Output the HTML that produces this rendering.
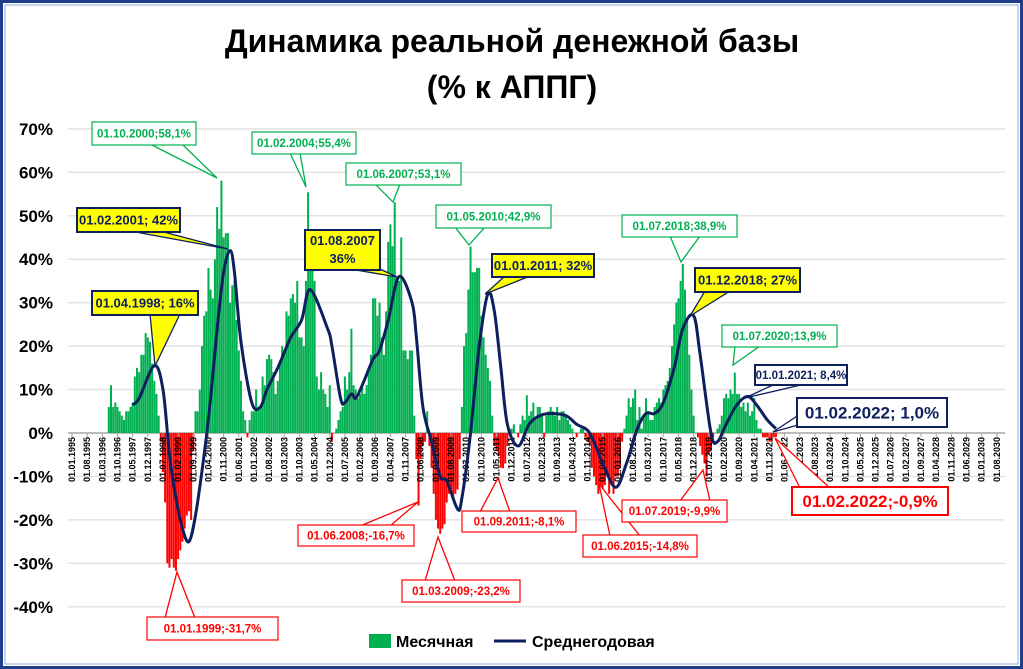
<!DOCTYPE html>
<html><head><meta charset="utf-8"><style>
html,body{margin:0;padding:0;background:#fff}
svg{display:block;font-family:"Liberation Sans",Arial,sans-serif}
</style></head><body>
<svg id="chart" width="1023" height="669" viewBox="0 0 1023 669">
<rect x="1.5" y="1.5" width="1020" height="666" fill="#fff" stroke="#1f3d8a" stroke-width="3"/>
<rect x="5" y="5" width="1013" height="659" fill="none" stroke="#8fa8d8" stroke-width="1"/>
<text x="512" y="52" text-anchor="middle" font-size="32" font-weight="bold" fill="#000">Динамика реальной денежной базы</text>
<text x="512" y="98" text-anchor="middle" font-size="32" font-weight="bold" fill="#000">(% к АППГ)</text>
<g id="grid"></g><g id="yaxis"></g><g id="bars"></g><g id="xaxis"></g><g id="line"></g><g id="ann"></g>
<g>
<rect x="369" y="634" width="22" height="14" fill="#00b050"/>
<text x="396" y="647" font-size="16" font-weight="bold">Месячная</text>
<line x1="494" y1="641" x2="526" y2="641" stroke="#0d1f5c" stroke-width="3"/>
<text x="532" y="647" font-size="16" font-weight="bold">Среднегодовая</text>
</g>
</svg>
<script>
// Monthly values starting 06.1996
const barStart = [1996, 6];
const monthlyValues = [
6,11,6,7,6,5,4,
3,5,5,6,7,13,15,14,18,18,23,22,
21,16,12,9,4,-2,-9,-16,-30,-31,-29,-31,
-31.7,-29,-27,-25,-22,-19,-18,-20,-4,5,5,10,
20,27,28,38,33,31,40,52,47,58.1,45,46,
46,30,34,35,26,19,12,5,3,-1,3,5,
5,10,6,6,13,11,17,18,17,14,9,12,
16,20,19,28,27,31,32,30,35,22,22,20,
35,55.4,38,38,35,13,10,14,10,9,6,11,
-2,0,1,3,5,6,13,10,14,24,11,10,
8,9,11,9,11,15,18,31,31,27,30,22,
18,28,44,48,43,53.1,36,35,45,19,19,17,
19,19,4,-6,-16.7,-6,-3,-2,5,-3,-8,-14,
-20,-22,-23.2,-22,-21,-16,-14,-13,-15,-14,-13,-6,
6,20,23,33,42.9,37,37,38,38,27,22,18,
15,12,4,-3,-4,-5,-8,-8.1,-7,-3,1,1,
2,0,-1,2,4,3,8.7,4,5,7,3,6,
6,4,-1,4,5,6,5,4,6,3,5,5,
4,3,2,1,0,-1,0,1,1,-1,-2,-3,
-8,-10,-12,-14,-13,-14.8,-12,-9,-14,-11,-14,-10,
-10,-8,-2,1,4,8,6,8,10,3,6,1,
4,8,5,3,3,6,7,8,7,10,11,12,
15,20,25,30,31,35,38.9,33,26,18,10,4,
0,-1,-3,-5,-7,-9.9,-5,-4,-1,0,1,2,
4,8,9,8,10,9,13.9,9,9,6,7,5,
7,4,5,8,3,1,1,-1,-1,-1,-2,-2,
-1,-0.9];
// Annual-average line: months since 01.1995 and values
const lineMonths = [28,31,38,42,45,48,51,54,57,61,64,67,70,73,75,78,83,87,90,95,101,106,110,118,120,124,126,129,131,134,139,142,146,151,157,159,162,166,170,173,178,180,184,188,192,195,198,201,206,211,216,221,228,233,239,245,251,256,261,265,269,273,278,282,287,290,295,298,302,307,312,316,321,325];
const lineValues = [6.5,8,15.5,10,-5,-15,-22,-25,-19,-5,8,24,37,42,37,21,7,6,10,15,22,26,33,24,20,8,7,9,8,11,17,19,26,36,30,22,6,-2,-10,-11,-17.5,-15,0,20,32,28,15,2,-3,2,4,4.5,4,2,0,-7,-12.5,-7,1,4.5,4.5,7,15,24,27,18,0,-2,2,6.5,8.4,6.5,3,1.0];
const yTicks = [-40,-30,-20,-10,0,10,20,30,40,50,60,70];

const NS='http://www.w3.org/2000/svg';
const X0=72, MW=2.166, Y0=433, PY=4.345;
const xm=m=>X0+m*MW, yv=v=>Y0-v*PY;
function el(t,a,p){const e=document.createElementNS(NS,t);for(const k in a)e.setAttribute(k,a[k]);p.appendChild(e);return e;}
const G=id=>document.getElementById(id);

yTicks.forEach(t=>{
  const g=el('line',{x1:68,x2:1005,y1:yv(t),y2:yv(t),stroke:t===0?'#a6a6a6':'#e3e3e3','stroke-width':1.5},G('grid'));
  
  
  const tx=el('text',{x:53,y:yv(t)+6,'text-anchor':'end','font-size':17,'font-weight':'bold'},G('yaxis'));
  tx.textContent=t+'%';
  
  
});

const m0=(barStart[0]-1995)*12+barStart[1]-1;
monthlyValues.forEach((v,i)=>{
  const m=m0+i, y=yv(Math.max(v,0)), h=Math.abs(v)*PY;
  const r=el('rect',{x:xm(m)-1,y:y,width:2,height:h,fill:v>=0?'#00b050':'#ff0000'},G('bars'));
  
  
});

for(let m=0;m<=427;m+=7){
  const yr=1995+Math.floor(m/12), mo=m%12+1;
  const lab='01.'+(mo<10?'0':'')+mo+'.'+yr;
  el('line',{x1:xm(m),x2:xm(m),y1:433,y2:437,stroke:'#a6a6a6'},G('xaxis'));
  const t=el('text',{x:0,y:0,transform:`translate(${xm(m)+3},437) rotate(-90)`,'text-anchor':'end','font-size':9,'font-weight':'bold'},G('xaxis'));
  t.textContent=lab;
  
  
}

const pts=lineMonths.map((m,i)=>[xm(m),yv(lineValues[i])]);
let d='M'+pts[0][0]+','+pts[0][1];
for(let i=0;i<pts.length-1;i++){
  const p0=pts[Math.max(i-1,0)],p1=pts[i],p2=pts[i+1],p3=pts[Math.min(i+2,pts.length-1)];
  d+=` C${p1[0]+(p2[0]-p0[0])/6},${p1[1]+(p2[1]-p0[1])/6} ${p2[0]-(p3[0]-p1[0])/6},${p2[1]-(p3[1]-p1[1])/6} ${p2[0]},${p2[1]}`;
}
const ln=el('path',{d:d,fill:'none',stroke:'#0d1f5c','stroke-width':3,'stroke-linejoin':'round'},G('line'));



const anns=[
[['01.10.2000;58,1%'],92,122,104,23,'g',217,178,150,182],
[['01.02.2004;55,4%'],252,132,104,22,'g',306,187,290,300],
[['01.06.2007;53,1%'],346,163,115,22,'g',393,202,375,400],
[['01.05.2010;42,9%'],436,205,115,23,'g',469,245,455,485],
[['01.07.2018;38,9%'],622,215,115,22,'g',681,262,670,700],
[['01.07.2020;13,9%'],722,325,115,22,'g',733,365,735,760],
[['01.02.2001; 42%'],77,208,103,24,'y',228,249,130,160],
[['01.04.1998; 16%'],92,291,106,24,'y',155,366,150,180],
[['01.08.2007','36%'],305,230,75,40,'y',397,277,350,380],
[['01.01.2011; 32%'],492,254,102,23,'y',485,294,505,530],
[['01.12.2018; 27%'],695,268,105,24,'y',690,316,705,730],
[['01.01.2021; 8,4%'],755,365,92,20,'b',745,398,775,805],
[['01.02.2022; 1,0%'],797,398,150,29,'B',773,432,800,800],
[['01.01.1999;-31,7%'],147,617,131,23,'r',177,572,165,195],
[['01.06.2008;-16,7%'],298,525,116,21,'r',418,502,360,390],
[['01.03.2009;-23,2%'],402,580,118,22,'r',438,537,425,455],
[['01.09.2011;-8,1%'],462,511,114,21,'r',498,478,480,510],
[['01.06.2015;-14,8%'],583,535,114,22,'r',599,484,610,640],
[['01.07.2019;-9,9%'],622,500,105,22,'r',703,470,680,710],
[['01.02.2022;-0,9%'],792,487,156,28,'R',775,438,800,830]
];
const st={g:['#fff','#00b050','#00b050',11.5,'bold'],y:['#ffff00','#0d1f5c','#0d1f5c',13,'bold'],b:['#fff','#0d1f5c','#0d1f5c',11.5,'bold'],B:['#fff','#0d1f5c','#0d1f5c',17,'bold'],r:['#fff','#ff0000','#ff0000',11.5,'bold'],R:['#fff','#ff0000','#ff0000',17,'bold']};
anns.forEach(a=>{
  const [lines,x,y,w,h,s,tx,ty,b1,b2]=a; const c=st[s];
  const g=el('g',{},G('ann'));
  
  
  const by = ty>y+h ? y+h-1 : (ty<y ? y+1 : y+h/2);
  if(b1===b2){el('polygon',{points:`${x+1},${y+h*0.6} ${x+1},${y+h-2} ${tx},${ty}`,fill:c[0],stroke:c[1],'stroke-width':1.3},g);}
  else el('polygon',{points:`${b1},${by} ${b2},${by} ${tx},${ty}`,fill:c[0],stroke:c[1],'stroke-width':1.3},g);
  el('rect',{x:x,y:y,width:w,height:h,fill:c[0],stroke:c[1],'stroke-width':s==='g'||s==='r'?1.2:2},g);
  lines.forEach((l,i)=>{
    const t=el('text',{x:x+w/2,y:y+(lines.length>1?15+i*18:h/2+c[3]*0.36),'text-anchor':'middle','font-size':c[3],'font-weight':c[4],fill:c[2]},g);
    t.textContent=l;
  });
});
</script>
</body></html>
